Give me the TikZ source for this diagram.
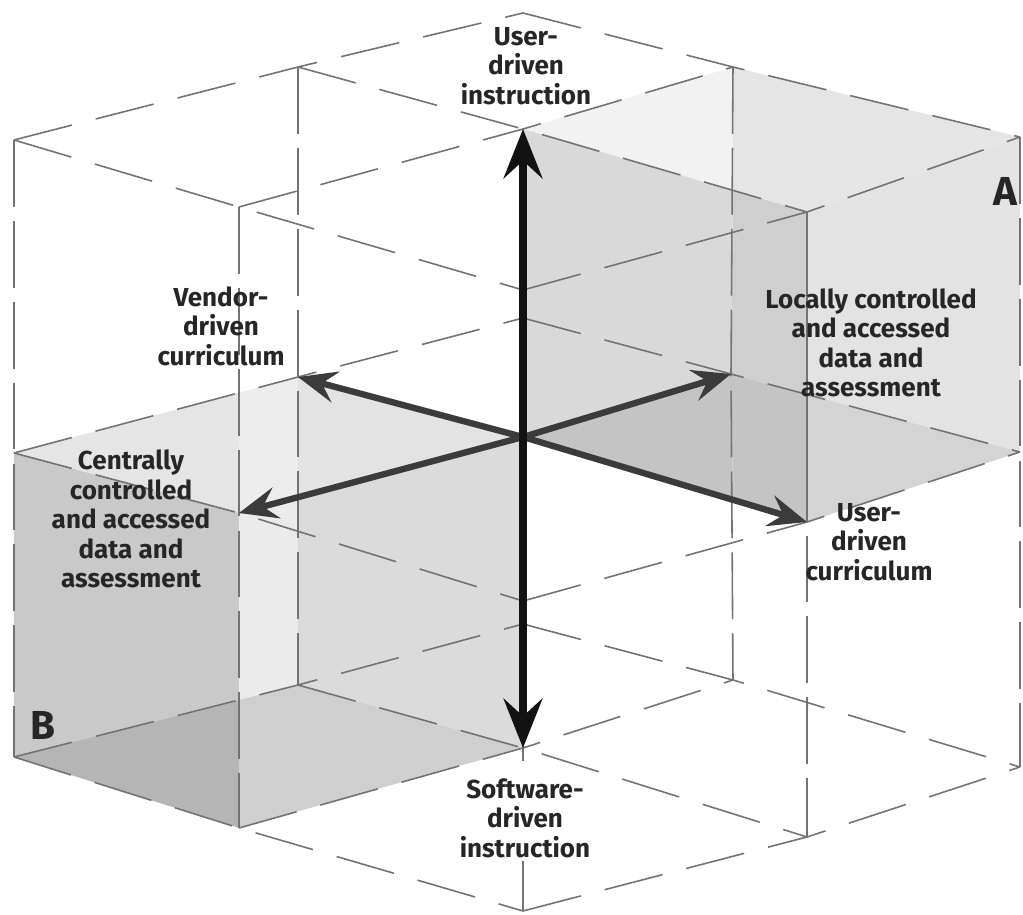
\documentclass[tikz,border=0pt]{standalone}
\usepackage{fontspec}
\setmainfont{Fira Sans}
\usetikzlibrary{arrows.meta}

\begin{document}
\begin{tikzpicture}[x=0.01cm, y=-0.01cm,
    grid/.style={draw=black!55, line width=0.45pt, dash pattern=on 17pt off 7pt},
    vgrid/.style={draw=black!55, line width=0.45pt, dash pattern=on 19pt off 4pt},
    edge/.style={draw=black!55, line width=0.45pt},
    axis/.style={line width=2.5pt, black!93, -{Stealth[length=14pt, width=11pt, inset=5pt]}},
    spoke/.style={line width=1.8pt, black!77, -{Stealth[length=11pt, width=9pt, inset=4pt]}},
    lbl/.style={font=\fontsize{7.4}{8.4}\selectfont\bfseries, text=black!85, align=center, inner sep=0pt},
    tag/.style={font=\fontsize{11.5}{12}\selectfont\bfseries, text=black!85, inner sep=0pt}]

\useasboundingbox (0,0) rectangle (1023,915);

% lattice points p<i><j><k>
\foreach \n/\x/\y in {002/14/140, 102/298/67, 202/523/13, 012/239/207, 112/523/129,
    212/733/67, 022/523/290, 122/807/212, 222/1020/137,
    001/14/453, 101/298/377, 201/523/318, 011/239/513, 111/523/437,
    211/731/374, 021/523/601, 121/807/522, 221/1020/452,
    000/14/757, 100/298/685, 200/523/624, 010/239/828, 110/523/748,
    210/733/680, 020/523/911, 120/807/837, 220/1020/767}
  \coordinate (p\n) at (\x,\y);

% cube A
\coordinate (m) at (intersection of p212--p210 and p112--p122);
\coordinate (n) at (intersection of p212--p210 and p111--p121);
\coordinate (z) at (intersection of p122--p120 and p211--p221);
\fill[black!5] (p112) -- (p212) -- (m) -- cycle;
\fill[black!10] (p212) -- (p222) -- (p122) -- (m) -- cycle;
\fill[black!15] (p112) -- (m) -- (p211) -- (p111) -- cycle;
\fill[black!23] (p111) -- (p211) -- (n) -- cycle;
\fill[black!19] (m) -- (p122) -- (z) -- (p211) -- cycle;
\fill[black!23] (p211) -- (z) -- (p121) -- (n) -- cycle;
\fill[black!11] (p122) -- (p222) -- (p221) -- (z) -- cycle;
\fill[black!17] (z) -- (p221) -- (p121) -- cycle;

% cube B
\coordinate (c1) at (intersection of p012--p010 and p001--p101);
\coordinate (c2) at (intersection of p102--p100 and p011--p111);
\coordinate (c3) at (intersection of p012--p010 and p000--p100);
\fill[black!10] (p001) -- (c1) -- (p011) -- cycle;
\fill[black!7] (c1) -- (p101) -- (c2) -- (p011) -- cycle;
\fill[black!11] (p101) -- (p111) -- (c2) -- cycle;
\fill[black!21] (p001) -- (p011) -- (c3) -- (p000) -- cycle;
\fill[black!29] (p000) -- (c3) -- (p010) -- cycle;
\fill[black!8] (p011) -- (c2) -- (p100) -- (c3) -- cycle;
\fill[black!14] (c2) -- (p111) -- (p110) -- (p100) -- cycle;
\fill[black!19] (c3) -- (p100) -- (p110) -- (p010) -- cycle;

% dashed lattice
\foreach \a in {0,1,2}{
  \foreach \b in {0,1,2}{
    \draw[grid] (p0\a\b) -- (p1\a\b) -- (p2\a\b);
    \draw[grid] (p\a0\b) -- (p\a1\b) -- (p\a2\b);
  }
}
\foreach \a/\b in {0/0, 1/0, 0/1, 2/1, 1/2, 2/2, 0/2}
  \draw[vgrid] (p\a\b2) -- (p\a\b1) -- (p\a\b0);
\draw[vgrid] (p201) -- (p200);
\draw[edge] (p122) -- (p121);

% axes
\draw[spoke] (p111) -- (p101);
\draw[spoke] (p111) -- (p011);
\draw[spoke] (p111) -- (p211);
\draw[spoke] (p111) -- (p121);
\draw[axis] (p111) -- (p112);
\draw[axis] (p111) -- (p110);

% labels
\node[lbl] (userinstr) at (526,66) {User-\\driven\\instruction};
\node[lbl] (vendor) at (221,326) {Vendor-\\driven\\curriculum};
\node[lbl] (local) at (871,343) {Locally controlled\\and accessed\\data and\\assessment};
\node[lbl] (central) at (131,519) {Centrally\\controlled\\and accessed\\data and\\assessment};
\node[lbl] (usercurr) at (869,542) {User-\\driven\\curriculum};
\node[lbl, fill=white, inner sep=1pt] (softinstr) at (525,818) {Software-\\driven\\instruction};
\node[tag] (tagA) at (1005,191) {A};
\node[tag] (tagB) at (43,725) {B};
\end{tikzpicture}
\end{document}
